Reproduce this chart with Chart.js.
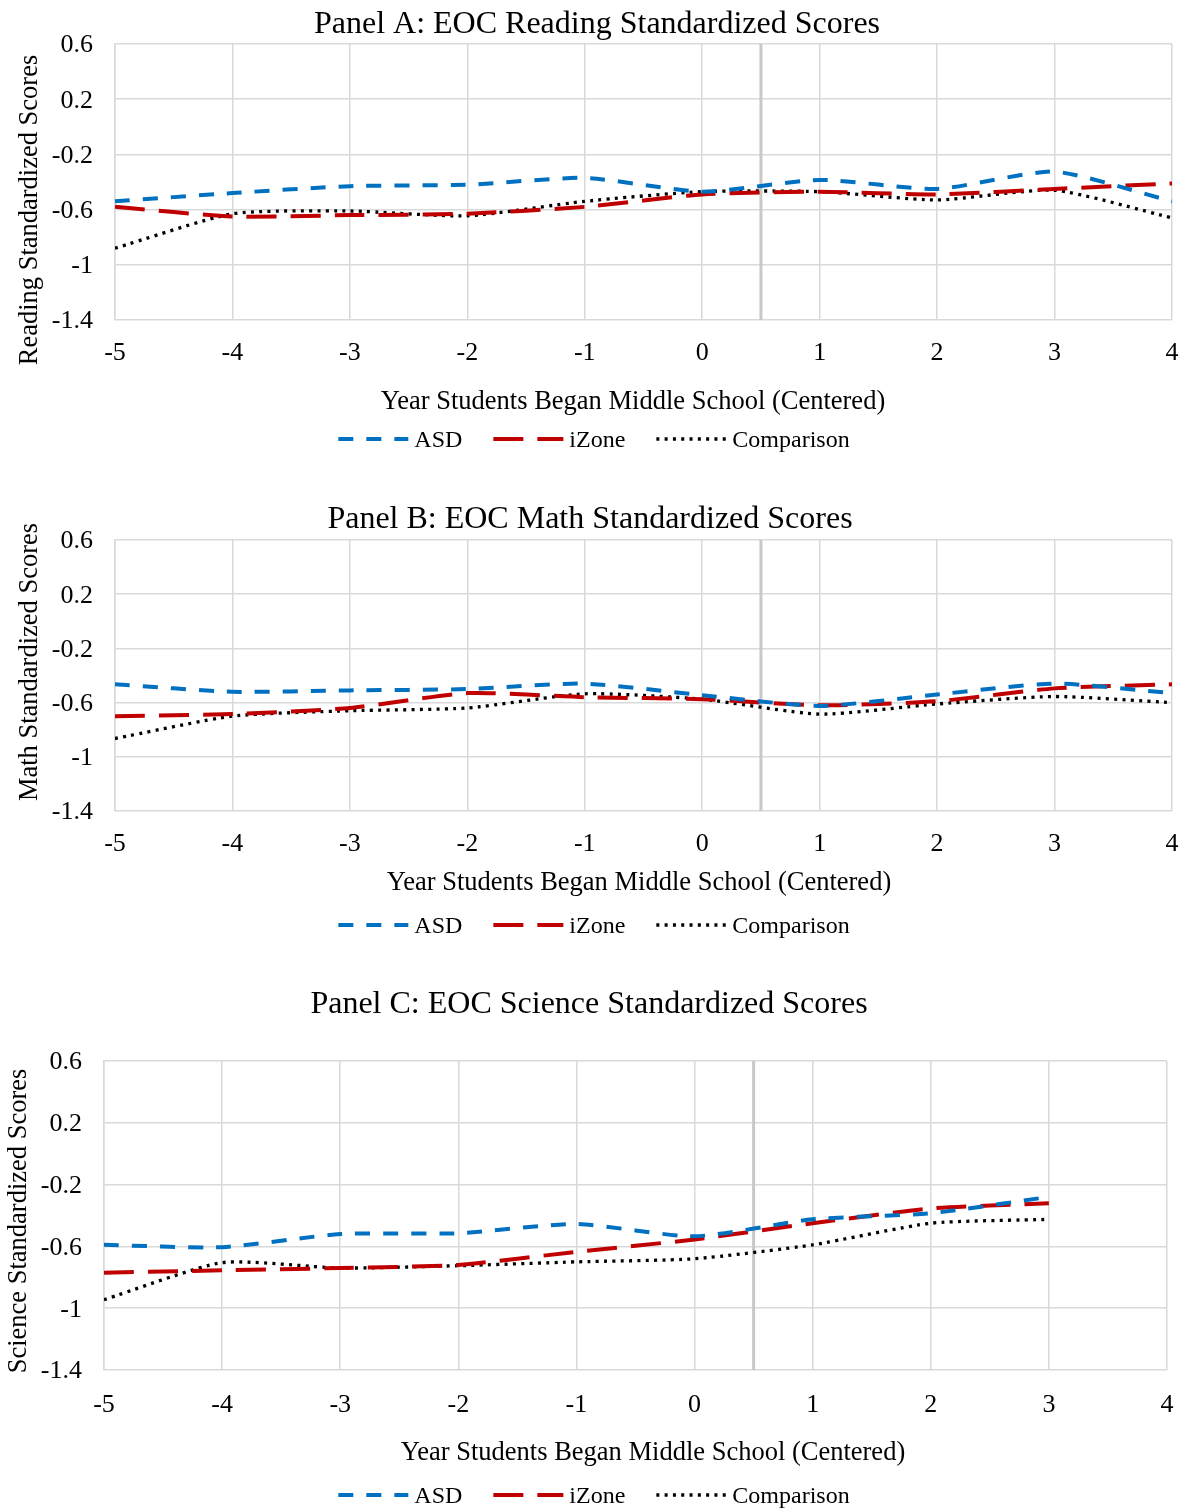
<!DOCTYPE html>
<html>
<head>
<meta charset="utf-8">
<script src="https://cdn.jsdelivr.net/npm/chart.js@4"></script>
<style>
  body { margin: 0; background: #fff; overflow: hidden; }
  canvas { position: absolute; left: 0; }
</style>
</head>
<body>
<canvas id="painelA" width="1188" height="460" style="top:0px"></canvas>
<canvas id="painelB" width="1188" height="476" style="top:470px"></canvas>
<canvas id="painelC" width="1188" height="561" style="top:950px"></canvas>
<script>
// valores
const anos = [-5, -4, -3, -2, -1, 0, 1, 2, 3, 4];
const xTicks = [-5, -4, -3, -2, -1, 0, 1, 2, 3, 4];
const yTicks = [-1.4, -1, -0.6, -0.2, 0.2, 0.6];
const divisaoX = 0.5;

const readingASD = [-0.54, -0.48, -0.43, -0.42, -0.37, -0.47, -0.385, -0.45, -0.325, -0.54];
const readingIZone = [-0.58, -0.65, -0.64, -0.63, -0.58, -0.49, -0.47, -0.49, -0.45, -0.41];
const readingComparison = [-0.88, -0.63, -0.61, -0.645, -0.54, -0.47, -0.47, -0.53, -0.46, -0.66];

const mathASD = [-0.465, -0.52, -0.51, -0.5, -0.46, -0.545, -0.625, -0.54, -0.46, -0.53];
const mathIZone = [-0.7, -0.685, -0.64, -0.53, -0.56, -0.575, -0.62, -0.59, -0.495, -0.465];
const mathComparison = [-0.865, -0.7, -0.66, -0.64, -0.535, -0.575, -0.685, -0.61, -0.555, -0.6];

const scienceASD = [-0.59, -0.605, -0.52, -0.515, -0.455, -0.535, -0.425, -0.385, -0.28];
const scienceIZone = [-0.77, -0.755, -0.74, -0.72, -0.635, -0.555, -0.45, -0.355, -0.32];
const scienceComparison = [-0.945, -0.705, -0.74, -0.725, -0.7, -0.68, -0.59, -0.45, -0.425];

const tituloEixoX = 'Year Students Began Middle School (Centered)';

const fonte = "'Liberation Serif', 'Times New Roman', serif";
Chart.defaults.font.family = fonte;
Chart.defaults.color = '#000';

function pares(valores) {
    return valores.map((v, i) => ({ x: anos[i], y: v }));
}

// Legenda desenhada à mão: a legenda do Chart.js não tracejava as linhas
const legendaLinhas = {
    id: 'legendaLinhas',
    afterDraw(chart, args, opts) {
        const ctx = chart.ctx;
        const itens = chart.data.datasets.filter(d => d.label !== '');
        const larguraLinha = 70, espaco = 6, entreItens = 31;
        ctx.save();
        ctx.font = '24px ' + fonte;
        const larguras = itens.map(d => larguraLinha + espaco + ctx.measureText(d.label).width);
        const total = larguras.reduce((a, b) => a + b, 0) + entreItens * (itens.length - 1);
        let x = opts.centro - total / 2;
        const y = opts.y;
        itens.forEach((d, i) => {
            ctx.beginPath();
            ctx.strokeStyle = d.borderColor;
            ctx.lineWidth = d.borderWidth;
            ctx.lineCap = 'butt';
            ctx.setLineDash(d.borderDash || []);
            ctx.moveTo(x, y);
            ctx.lineTo(x + larguraLinha, y);
            ctx.stroke();
            ctx.setLineDash([]);
            ctx.fillStyle = '#000';
            ctx.textBaseline = 'middle';
            ctx.textAlign = 'left';
            ctx.fillText(d.label, x + larguraLinha + espaco, y + 2);
            x += larguras[i] + entreItens;
        });
        ctx.restore();
    }
};

// Títulos (painel e eixos) nas posições do original, que não ficam bem centrados
const titulos = {
    id: 'titulos',
    afterDraw(chart, args, opts) {
        const ctx = chart.ctx;
        ctx.save();
        ctx.fillStyle = '#000';
        ctx.textAlign = 'center';
        ctx.textBaseline = 'middle';
        ctx.font = '32px ' + fonte;
        ctx.fillText(opts.painel, opts.painelPos[0], opts.painelPos[1] + 2.5);
        ctx.font = '26.5px ' + fonte;
        ctx.fillText(opts.textoX, opts.xPos[0], opts.xPos[1] + 2);
        ctx.translate(opts.yPos[0], opts.yPos[1]);
        ctx.rotate(-Math.PI / 2);
        ctx.fillText(opts.textoY, 0, 2);
        ctx.restore();
    }
};

function desenharPainel(id, titulo, tituloY, asd, izone, comparacao, aj) {
    const ctx = document.getElementById(id).getContext('2d');

    new Chart(ctx, {
        type: 'line',
        data: {
            datasets: [
                {
                    label: 'ASD',
                    data: pares(asd),
                    borderColor: '#0070c0',
                    borderWidth: 4,
                    borderDash: [15, 13],
                    pointRadius: 0,
                    tension: 0.2
                },
                {
                    label: 'iZone',
                    data: pares(izone),
                    borderColor: '#c00000',
                    borderWidth: 4,
                    borderDash: [30, 14],
                    pointRadius: 0,
                    tension: 0.2
                },
                {
                    label: 'Comparison',
                    data: pares(comparacao),
                    borderColor: '#000',
                    borderWidth: 3.3,
                    borderDash: [3, 5.3],
                    pointRadius: 0,
                    tension: 0.2
                },
                {
                    // linha vertical cinza entre 0 e 1
                    label: '',
                    data: [{ x: divisaoX, y: yTicks[0] }, { x: divisaoX, y: yTicks[yTicks.length - 1] }],
                    borderColor: '#c8c8c8',
                    borderWidth: 3,
                    pointRadius: 0,
                    order: 10
                }
            ]
        },
        options: {
            responsive: false,
            animation: false,
            // o espaço de cima fica para o título do painel
            layout: { padding: { left: 0, right: aj.direita, top: aj.topo, bottom: aj.base } },
            plugins: {
                title: { display: false },
                legend: { display: false },
                legendaLinhas: { centro: 594, y: aj.legendaY },
                titulos: {
                    painel: titulo, painelPos: aj.painel,
                    textoX: tituloEixoX, textoY: tituloY, xPos: aj.eixoX, yPos: aj.eixoY
                },
                tooltip: { enabled: false }
            },
            scales: {
                x: {
                    type: 'linear',
                    min: xTicks[0],
                    max: xTicks[xTicks.length - 1],
                    afterBuildTicks: s => { s.ticks = xTicks.map(v => ({ value: v })); },
                    afterFit: s => { s.height = aj.alturaX; },
                    grid: {
                        color: '#d9d9d9', lineWidth: 1.5,
                        drawTicks: true, tickLength: aj.ticksX, tickColor: 'rgba(0,0,0,0)'
                    },
                    border: { display: false },
                    ticks: { font: { size: 26 }, padding: 0, maxRotation: 0 }
                },
                y: {
                    min: yTicks[0],
                    max: yTicks[yTicks.length - 1],
                    afterBuildTicks: s => { s.ticks = yTicks.map(v => ({ value: v })); },
                    afterFit: s => { s.width = aj.larguraY; },
                    grid: { color: '#d9d9d9', lineWidth: 1.5, drawTicks: false },
                    border: { color: '#d9d9d9', width: 1.5 },
                    ticks: {
                        font: { size: 26 },
                        padding: 22,
                        labelOffset: 1.5,
                        callback: v => String(Number(v.toFixed(1)))
                    }
                }
            }
        },
        plugins: [legendaLinhas, titulos]
    });
}

desenharPainel('painelA', 'Panel A: EOC Reading Standardized Scores', 'Reading Standardized Scores',
    readingASD, readingIZone, readingComparison,
    { direita: 16, topo: 44, base: 44, alturaX: 96, ticksX: 18, larguraY: 115,
      painel: [597, 22], eixoX: [633, 400], eixoY: [28, 210], legendaY: 439 });

desenharPainel('painelB', 'Panel B: EOC Math Standardized Scores', 'Math Standardized Scores',
    mathASD, mathIZone, mathComparison,
    { direita: 16, topo: 70, base: 49, alturaX: 86, ticksX: 18, larguraY: 115,
      painel: [590, 47], eixoX: [639, 411], eixoY: [28, 192], legendaY: 455 });

desenharPainel('painelC', 'Panel C: EOC Science Standardized Scores', 'Science Standardized Scores',
    scienceASD, scienceIZone, scienceComparison,
    { direita: 21, topo: 111, base: 44, alturaX: 97, ticksX: 20, larguraY: 104,
      painel: [589, 52], eixoX: [653, 501], eixoY: [17, 271], legendaY: 545 });
</script>
</body>
</html>
